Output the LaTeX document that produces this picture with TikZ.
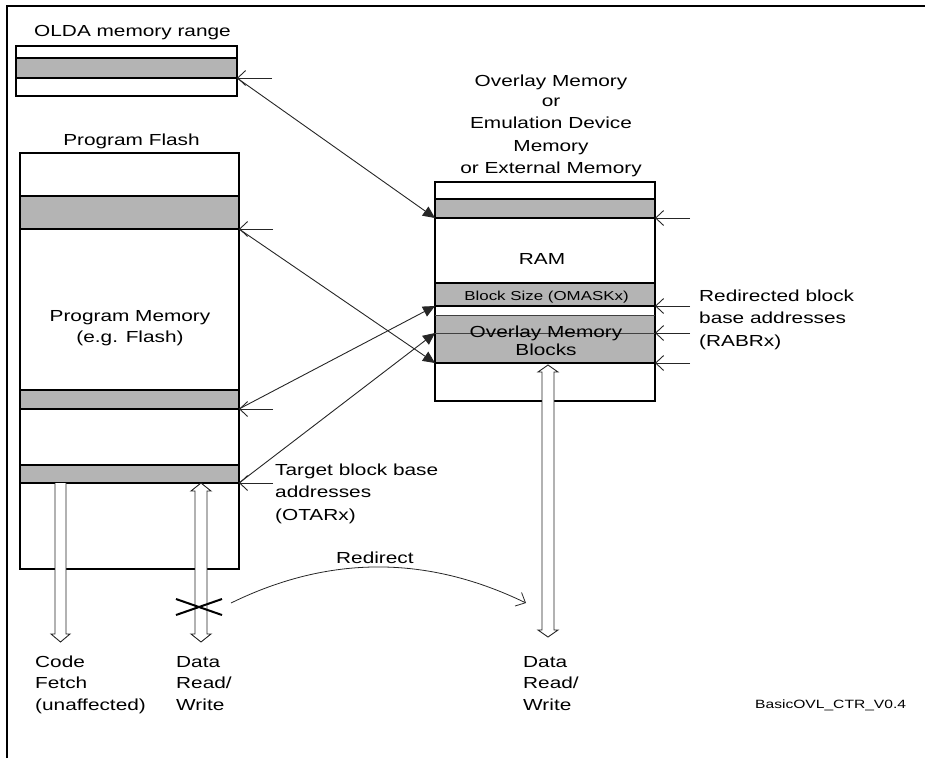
\documentclass[tikz,border=0pt]{standalone}
\usepackage{fontspec}
\setmainfont{Liberation Sans}[FakeStretch=1.3]
\usetikzlibrary{arrows.meta}
\definecolor{bandgray}{RGB}{180,180,180}
\tikzset{
  box/.style={line width=1.8pt, draw=black},
  thinline/.style={line width=0.9pt, draw=black!85},
  hairline/.style={line width=0.7pt, draw=black!75},
  barb/.style={thinline, -{Straight Barb[length=8pt,width=15pt]}},
  tri/.style={thinline, -{Triangle[length=12pt,width=11pt]}},
  lbl/.style={inner sep=0pt, font=\fontsize{16}{21.7}\selectfont},
  small/.style={inner sep=0pt, font=\fontsize{13}{16}\selectfont},
  tiny/.style={inner sep=0pt, font=\fontsize{12}{14}\selectfont},
  bus/.style={line width=0.9pt, draw=black!85, fill=white},
  xmark/.style={line width=2pt, draw=black}
}
\begin{document}
\begin{tikzpicture}[x=1pt,y=-1pt]
\useasboundingbox (0,0) rectangle (925,758);
% outer frame (cropped)
\draw[line width=1.3pt] (7,758) -- (7,6) -- (925,6);

% ---------- OLDA memory range ----------
\fill[bandgray] (16,58) rectangle (237,78);
\draw[box] (16,46) rectangle (237,96);
\draw[box] (16,58) -- (237,58) (16,78) -- (237,78);
\node[lbl, anchor=base] (oldat) at (132.5,36) {OLDA memory range};
\coordinate (oldaB) at (237,78);
\coordinate (oldaR) at (272,78);

% ---------- Program Flash ----------
\fill[bandgray] (20,196) rectangle (239,229);
\fill[bandgray] (20,390) rectangle (239,409);
\fill[bandgray] (20,465) rectangle (239,483);
\draw[box] (20,153) rectangle (239,569);
\draw[box] (20,196) -- (239,196) (20,229) -- (239,229)
           (20,390) -- (239,390) (20,409) -- (239,409)
           (20,465) -- (239,465) (20,483) -- (239,483);
\node[lbl, anchor=base] (pft) at (131.5,145) {Program Flash};
\node[lbl, anchor=base] (pm1) at (130,321) {Program Memory};
\node[lbl, anchor=base] (pm2) at (130,342) {(e.g. Flash)};
\coordinate (pfA) at (239,229);
\coordinate (pfB) at (239,409);
\coordinate (pfC) at (239,483);
\coordinate (pfAr) at (273,229);
\coordinate (pfBr) at (273,409);
\coordinate (pfCr) at (273,483);

% ---------- Overlay memory ----------
\fill[bandgray] (435,199) rectangle (655,218);
\fill[bandgray] (435,283) rectangle (655,306);
\fill[bandgray] (435,315) rectangle (655,363);
\draw[box] (435,182) rectangle (655,401);
\draw[box] (435,199) -- (655,199) (435,218) -- (655,218)
           (435,283) -- (655,283) (435,306) -- (655,306)
           (435,363) -- (655,363);
\draw[hairline] (435,315) -- (655,315) (435,333) -- (655,333);
\node[lbl, anchor=base] (t1) at (551,86) {Overlay Memory};
\node[lbl, anchor=base] (t2) at (551,106) {or};
\node[lbl, anchor=base] (t3) at (551,128) {Emulation Device};
\node[lbl, anchor=base] (t4) at (551,151) {Memory};
\node[lbl, anchor=base] (t5) at (551,173) {or External Memory};
\node[lbl, anchor=base] (ram) at (542,264) {RAM};
\node[small, anchor=base] (bs) at (546.5,300) {Block Size (OMASKx)};
\node[lbl, anchor=base] (om1) at (546,337) {Overlay Memory};
\node[lbl, anchor=base] (om2) at (546,355) {Blocks};
\coordinate (ovA) at (435,218);
\coordinate (ovB) at (435,306);
\coordinate (ovC) at (435,333);
\coordinate (ovD) at (435,363);
\coordinate (rA) at (655,218);
\coordinate (rB) at (655,306);
\coordinate (rC) at (655,333);
\coordinate (rD) at (655,363);
\coordinate (rAr) at (690,218);
\coordinate (rBr) at (690,306);
\coordinate (rCr) at (690,333);
\coordinate (rDr) at (690,363);

% ---------- pointer arrows ----------
\draw[barb] (oldaR) -- (oldaB);
\draw[barb] (pfAr) -- (pfA);
\draw[barb] (pfBr) -- (pfB);
\draw[barb] (pfCr) -- (pfC);
\draw[barb] (rAr) -- (rA);
\draw[barb] (rBr) -- (rB);
\draw[barb] (rCr) -- (rC);
\draw[barb] (rDr) -- (rD);

% ---------- mapping arrows ----------
\draw[tri] (oldaB) -- (ovA);
\draw[tri] (pfA) -- (ovD);
\draw[tri] (pfB) -- (ovB);
\draw[tri] (pfC) -- (ovC);

% ---------- labels ----------
\node[lbl, anchor=base west] (tg1) at (275,475) {Target block base};
\node[lbl, anchor=base west] (tg2) at (275,497.5) {addresses};
\node[lbl, anchor=base west] (tg3) at (275,520) {(OTARx)};
\node[lbl, anchor=base west] (rb1) at (699,301) {Redirected block};
\node[lbl, anchor=base west] (rb2) at (699,323.5) {base addresses};
\node[lbl, anchor=base west] (rb3) at (699,346) {(RABRx)};

% ---------- buses ----------
\draw[bus] (55,483) -- (55,634) -- (51,634) -- (60.5,642) -- (70,634) -- (66,634) -- (66,483);
\draw[bus] (201,483) -- (211,491) -- (207,491) -- (207,634) -- (211,634) -- (201,642)
           -- (191,634) -- (195,634) -- (195,491) -- (191,491) -- cycle;
\draw[bus] (548,365) -- (558,372) -- (554,372) -- (554,630) -- (558,630) -- (548,637)
           -- (538,630) -- (542,630) -- (542,372) -- (538,372) -- cycle;
\draw[xmark] (176,599) -- (222,615) (176,615) -- (222,599);

% redirect
\coordinate (redS) at (231,603);
\coordinate (redE) at (526,603);
\draw[barb, line width=0.8pt] (redS) .. controls (329,555) and (427,555) .. (redE);
\node[lbl, anchor=base west] (redl) at (336,563) {Redirect};

% bottom labels
\node[lbl, anchor=base west] (cf1) at (35,667) {Code};
\node[lbl, anchor=base west] (cf2) at (35,688) {Fetch};
\node[lbl, anchor=base west] (cf3) at (35,710) {(unaffected)};
\node[lbl, anchor=base west] (dl1) at (176,667) {Data};
\node[lbl, anchor=base west] (dl2) at (176,688) {Read/};
\node[lbl, anchor=base west] (dl3) at (176,710) {Write};
\node[lbl, anchor=base west] (dr1) at (523,667) {Data};
\node[lbl, anchor=base west] (dr2) at (523,688) {Read/};
\node[lbl, anchor=base west] (dr3) at (523,710) {Write};
\node[tiny, anchor=base west] (ver) at (755,708) {BasicOVL\_CTR\_V0.4};
\end{tikzpicture}
\end{document}
